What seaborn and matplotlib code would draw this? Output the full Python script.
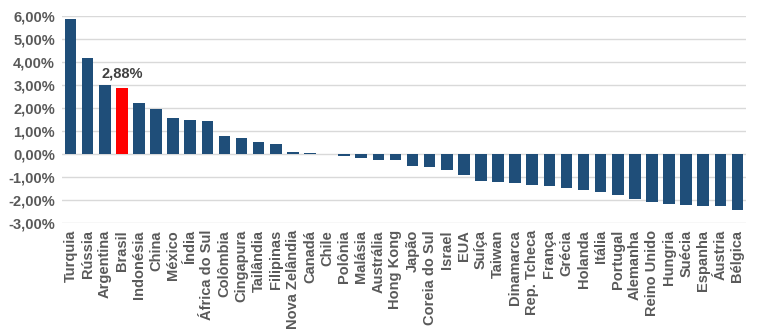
import matplotlib
matplotlib.use("Agg")
import matplotlib.pyplot as plt
import seaborn as sns
import pandas as pd
from matplotlib.ticker import FuncFormatter

countries = ["Turquia", "Rússia", "Argentina", "Brasil", "Indonésia", "China", "México",
             "Índia", "África do Sul", "Colômbia", "Cingapura", "Tailândia", "Filipinas",
             "Nova Zelândia", "Canadá", "Chile", "Polônia", "Malásia", "Austrália",
             "Hong Kong", "Japão", "Coreia do Sul", "Israel", "EUA", "Suíça", "Taiwan",
             "Dinamarca", "Rep. Tcheca", "França", "Grécia", "Holanda", "Itália",
             "Portugal", "Alemanha", "Reino Unido", "Hungria", "Suécia", "Espanha",
             "Áustria", "Bélgica"]
values = [5.88, 4.17, 2.98, 2.88, 2.24, 1.97, 1.58,
          1.50, 1.45, 0.79, 0.70, 0.53, 0.45,
          0.10, 0.06, 0.01, -0.10, -0.19, -0.25,
          -0.25, -0.51, -0.56, -0.69, -0.91, -1.17, -1.21,
          -1.26, -1.35, -1.39, -1.48, -1.56, -1.65,
          -1.78, -1.96, -2.09, -2.18, -2.22, -2.27,
          -2.27, -2.44]
highlight = "Brasil"
highlight_label = "2,88%"
yticks = [-3, -2, -1, 0, 1, 2, 3, 4, 5, 6]

df = pd.DataFrame({"pais": countries, "valor": values})
df["grupo"] = ["destaque" if c == highlight else "outro" for c in countries]

plt.rcParams["font.family"] = ["Liberation Sans", "DejaVu Sans"]
fig = plt.figure(figsize=(7.62, 3.33), dpi=100)
ax = fig.add_axes([0.0814, 0.330, 0.8976, 0.622])

sns.barplot(data=df, x="pais", y="valor", hue="grupo",
            palette={"outro": "#1F4E79", "destaque": "#FF0000"},
            dodge=False, legend=False, width=0.68, ax=ax, saturation=1)

ax.set_ylim(-3, 6)
ax.set_xlim(-0.5, len(countries) - 0.5)
ax.set_yticks(yticks)
ax.yaxis.set_major_formatter(FuncFormatter(lambda v, p: f"{v:.2f}%".replace(".", ",")))
ax.grid(axis="y", color="#D9D9D9", linewidth=1)
ax.set_axisbelow(True)
for s in ax.spines.values():
    s.set_visible(False)
ax.tick_params(axis="both", length=0)
ax.tick_params(axis="y", pad=5, labelsize=10.5, labelcolor="#595959")
ax.tick_params(axis="x", pad=5, labelsize=10.5, labelcolor="#595959")
for lbl in ax.get_yticklabels():
    lbl.set_fontweight("bold")
ax.set_xticks(range(len(countries)))
ax.set_xticklabels(countries, rotation=90, fontweight="bold", va="top", ha="center")
ax.set_xlabel("")
ax.set_ylabel("")

i = countries.index(highlight)
ax.text(i, values[i] + 0.3, highlight_label, ha="center", va="bottom",
        fontsize=10.5, fontweight="bold", color="#404040")

fig.savefig("out.png", dpi=100)
